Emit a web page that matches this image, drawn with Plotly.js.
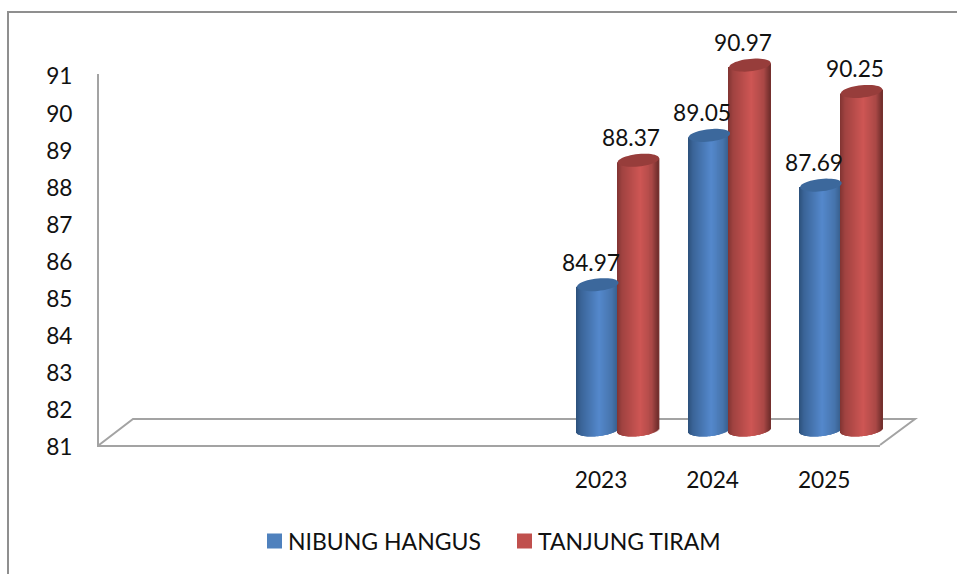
<!DOCTYPE html>
<html>
<head>
<meta charset="utf-8">
<script src="https://cdn.plot.ly/plotly-3.0.1.min.js"></script>
<style>html,body{margin:0;padding:0;background:#fff}#c{width:957px;height:574px}</style>
</head>
<body>
<div id="c"></div>
<script>
// ---- data ----
const categories = ['2023', '2024', '2025'];
const blankSlots = 4;            // empty category slots before 2023
const nibungHangus = [84.97, 89.05, 87.69];
const tanjungTiram = [88.37, 90.97, 90.25];
const seriesNames = ['NIBUNG HANGUS', 'TANJUNG TIRAM'];
const yTicks = [81, 82, 83, 84, 85, 86, 87, 88, 89, 90, 91];

// ---- styling ----
const W = 957, H = 574, FONT = 'Lato, Carlito, sans-serif', TEXT = '#111111', AXIS = '#a3a3a3';
const px = v => v / W, py = v => 1 - v / H;
const blueStops = [[0, [44, 80, 122]], [.12, [58, 100, 152]], [.55, [84, 136, 204]], [.85, [70, 116, 172]], [1, [54, 92, 138]]];
const redStops = [[0, [128, 52, 50]], [.12, [160, 66, 64]], [.55, [206, 86, 84]], [.85, [170, 72, 70]], [1, [112, 46, 44]]];
const blueCap = '#3c689c', redCap = '#973d3b', blueKey = '#4f81bd', redKey = '#c0504d';

const baseValue = 81, slotCount = 7, offset = 0.182, halfWidth = 0.186;
const radiusY = 0.17, tilt = 0.055, strips = 42;   // cylinder perspective, in axis units

function shade(stops, u) {
  for (let i = 1; i < stops.length; i++) {
    if (u <= stops[i][0]) {
      const a = stops[i - 1], b = stops[i], f = (u - a[0]) / (b[0] - a[0]);
      const c = a[1].map((v, k) => Math.round(v + (b[1][k] - v) * f));
      return `rgb(${c[0]},${c[1]},${c[2]})`;
    }
  }
  return 'rgb(0,0,0)';
}

function cylinders(values, dx, stops) {
  const x = [], y = [], base = [], width = [], color = [];
  values.forEach((v, i) => {
    const cx = i + blankSlots + dx;
    for (let s = 0; s < strips; s++) {
      const t = (s + .5) / strips * 2 - 1;
      const bottom = baseValue - radiusY * Math.sqrt(1 - t * t) + tilt * t;
      const top = v + tilt * t;
      x.push(cx + t * halfWidth);
      base.push(bottom);
      y.push(top - bottom);
      width.push(halfWidth * 2 / strips * 1.5);
      color.push(shade(stops, (t + 1) / 2));
    }
  });
  return {type: 'bar', x, y, base, width, xaxis: 'x2', yaxis: 'y2', showlegend: false, hoverinfo: 'skip',
          opacity: 1, marker: {color, opacity: 1, line: {width: 0}}};
}

function capPath(cx, v) {
  const pts = [];
  for (let a = 0; a < 48; a++) {
    const th = a / 48 * 2 * Math.PI, t = Math.cos(th);
    pts.push((a ? 'L' : 'M') + (cx + halfWidth * t) + ',' + (v + tilt * t + radiusY * Math.sin(th)));
  }
  return pts.join(' ') + ' Z';
}
function capShapes(values, dx, color) {
  return values.map((v, i) => ({type: 'path', xref: 'x2', yref: 'y2', layer: 'above',
    path: capPath(i + blankSlots + dx, v), fillcolor: color, line: {width: 0}}));
}
function labels(values, dx) {
  return values.map((v, i) => ({xref: 'x2', yref: 'y2', x: i + blankSlots + dx, y: v, text: v.toFixed(2),
    showarrow: false, xshift: -7, yshift: 22.5, font: {family: FONT, size: 22.7, color: TEXT}}));
}
function keyTrace(name, color, legend) {
  return {type: 'scatter', mode: 'markers', x: [null], y: [null], name, legend,
          marker: {symbol: 'square', size: 15, color}, hoverinfo: 'skip'};
}

const traces = [
  keyTrace(seriesNames[0], blueKey, 'legend'),
  keyTrace(seriesNames[1], redKey, 'legend2'),
  cylinders(nibungHangus, -offset, blueStops),
  cylinders(tanjungTiram, offset, redStops)
];

const legendFont = {family: FONT, size: 23, color: TEXT};
const layout = {
  width: W, height: H, margin: {l: 0, r: 0, t: 0, b: 0}, paper_bgcolor: '#fff', plot_bgcolor: 'rgba(0,0,0,0)',
  barmode: 'overlay', font: {family: FONT, color: TEXT}, dragmode: false,
  xaxis: {domain: [px(99), px(880)], range: [-0.5, slotCount - 0.5], tickmode: 'array',
    tickvals: categories.map((c, i) => i + blankSlots), ticktext: categories,
    showgrid: false, zeroline: false, showline: true, linecolor: AXIS, linewidth: 2,
    ticks: 'outside', ticklen: 14, tickcolor: 'rgba(0,0,0,0)', tickfont: {family: FONT, size: 22.7, color: TEXT}},
  yaxis: {domain: [py(445), py(74)], range: [baseValue, 91], tickmode: 'array', tickvals: yTicks,
    ticktext: yTicks.map(String), showgrid: false, zeroline: false, showline: true, linecolor: AXIS, linewidth: 2,
    ticks: 'outside', ticklen: 20, tickcolor: 'rgba(0,0,0,0)',
    tickfont: {family: FONT, size: 22.7, color: TEXT}},
  xaxis2: {domain: [px(116), px(897)], range: [-0.5, slotCount - 0.5], visible: false, anchor: 'y2', fixedrange: true},
  yaxis2: {domain: [py(466.6), py(45.7)], range: [80, 91.5], visible: false, anchor: 'x2', fixedrange: true},
  legend: {x: px(248), y: py(541), xanchor: 'left', yanchor: 'middle', font: legendFont, bgcolor: 'rgba(0,0,0,0)'},
  legend2: {x: px(498), y: py(541), xanchor: 'left', yanchor: 'middle', font: legendFont, bgcolor: 'rgba(0,0,0,0)'},
  shapes: [
    {type: 'path', xref: 'paper', yref: 'paper', layer: 'below', line: {color: '#8f8f8f', width: 2},
     path: `M${px(8)},0 L${px(8)},${py(12)} L1,${py(12)}`},
    {type: 'path', xref: 'paper', yref: 'paper', layer: 'below', line: {color: AXIS, width: 2},
     path: `M${px(99)},${py(445)} L${px(133)},${py(419)} L${px(915)},${py(419)} L${px(880)},${py(445)}`},
    ...capShapes(nibungHangus, -offset, blueCap),
    ...capShapes(tanjungTiram, offset, redCap)
  ],
  annotations: [...labels(nibungHangus, -offset), ...labels(tanjungTiram, offset)]
};
Plotly.newPlot('c', traces, layout, {displayModeBar: false}).then(() => {
  // key squares sit closer to their text than the legend's fixed item width allows
  document.querySelectorAll('.legendsymbols').forEach(g => g.setAttribute('transform', 'translate(6.5,0)'));
  // value-axis labels sit a little below their tick position in the reference
  document.querySelectorAll('.ytick').forEach(g => g.setAttribute('transform', 'translate(0,2.5)'));
});
</script>
</body>
</html>
